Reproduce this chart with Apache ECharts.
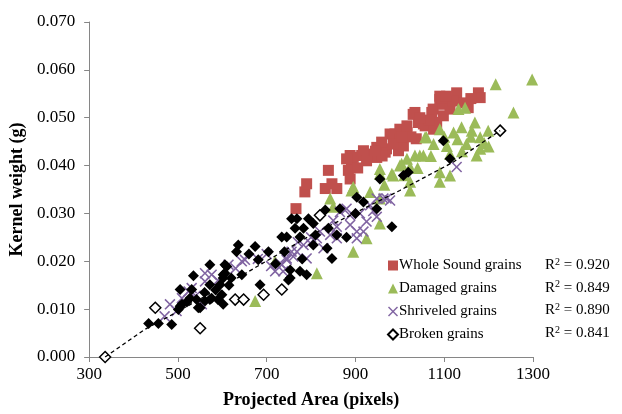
<!DOCTYPE html>
<html>
<head>
<meta charset="utf-8">
<script src="https://cdn.jsdelivr.net/npm/echarts@6/dist/echarts.min.js"></script>
<style>html,body{margin:0;padding:0;background:#fff}#c{width:622px;height:414px}</style>
</head>
<body>
<div id="c"></div>
<script>
// ---- data ----
var xTicks = [300, 500, 700, 900, 1100, 1300];
var yTicks = [0, 0.01, 0.02, 0.03, 0.04, 0.05, 0.06, 0.07];
var seriesNames = ['Whole Sound grains', 'Damaged grains', 'Shriveled grains', 'Broken grains'];
var r2Values = ['0.920', '0.849', '0.890', '0.841'];

var wholeSound = [[766,0.031],[786,0.0345],[790,0.0362],[839,0.039],[832,0.0352],[858,0.0352],[847,0.0362],[888,0.0421],[891,0.0404],[884,0.039],[888,0.0372],[914,0.0421],[933,0.0424],[948,0.0417],[967,0.0428],[997,0.0431],[895,0.0417],[918,0.0431],[948,0.0438],[970,0.0435],[989,0.0466],[1000,0.0476],[1030,0.0507],[1042,0.049],[1057,0.0483],[1075,0.0518],[1090,0.0545],[1098,0.0528],[1016,0.0469],[978,0.0466],[959,0.0449],[880,0.0414],[1090,0.0538],[1128,0.0552],[1177,0.0552],[1181,0.0542],[1143,0.0531],[1154,0.0521],[1098,0.0504],[1083,0.049],[1053,0.0487],[1016,0.0483],[1000,0.0456],[1037,0.0456],[1008,0.0441],[1072,0.0511],[1113,0.0518],[1076,0.0476],[1034,0.0511],[1094,0.0542],[925,0.0410],[960,0.0420],[1025,0.0460],[1065,0.0495],[1120,0.0535],[905,0.0395],[985,0.0445],[945,0.0430],[1005,0.0460],[1045,0.0500],[1105,0.0545],[1160,0.0540]];

var damaged = [[1216,0.057],[1298,0.058],[1256,0.0511],[1132,0.0518],[1147,0.0521],[1169,0.049],[1139,0.048],[1121,0.0469],[1162,0.0473],[1199,0.0473],[1181,0.0459],[1090,0.0476],[1060,0.0459],[1076,0.0445],[1045,0.0421],[1016,0.0414],[1106,0.0441],[1113,0.0424],[1181,0.0435],[1173,0.0421],[1090,0.0386],[1113,0.0379],[1090,0.0366],[1023,0.0366],[1057,0.0459],[1053,0.0421],[1034,0.0421],[1000,0.040],[985,0.0379],[955,0.0393],[895,0.0355],[955,0.0383],[982,0.0383],[1004,0.0404],[1023,0.0397],[933,0.0345],[891,0.0348],[955,0.0279],[1023,0.0348],[850,0.0314],[895,0.022],[925,0.0248],[813,0.0175],[843,0.0331],[955,0.0331],[674,0.0117],[719,0.020],[1150,0.0445],[1190,0.0447],[1130,0.0455],[1160,0.0460],[1100,0.0460],[1040,0.0395],[1070,0.0420],[1140,0.0430],[1200,0.0440],[965,0.0360],[1010,0.0380]];

var shriveled = [[482,0.011],[497,0.0096],[509,0.0123],[531,0.0144],[561,0.0158],[576,0.0172],[614,0.0193],[644,0.020],[651,0.0203],[734,0.0193],[745,0.0206],[756,0.022],[561,0.0175],[554,0.011],[524,0.0137],[963,0.0331],[933,0.0317],[948,0.0293],[925,0.0283],[880,0.031],[888,0.0276],[858,0.0272],[843,0.0255],[820,0.0262],[813,0.0248],[798,0.0238],[783,0.0234],[768,0.022],[760,0.021],[745,0.0203],[730,0.0196],[719,0.0179],[737,0.0179],[790,0.0206],[828,0.0227],[858,0.0248],[903,0.0262],[978,0.0327],[888,0.0296],[948,0.0331],[970,0.0331],[903,0.0248],[918,0.0262],[865,0.0303],[1128,0.0397],[470,0.0085],[540,0.0128],[590,0.0160],[630,0.0185],[680,0.0205],[700,0.0215],[710,0.0190],[770,0.0240],[800,0.0250],[850,0.0285],[910,0.0300],[940,0.0305]];

var brokenSolid = [[434,0.0070],[456,0.0070],[486,0.0068],[501,0.0099],[505,0.0106],[509,0.0110],[527,0.0123],[531,0.0141],[505,0.0141],[546,0.0103],[550,0.0103],[542,0.0120],[561,0.0117],[572,0.0120],[576,0.0123],[572,0.0151],[595,0.0151],[599,0.0130],[602,0.0110],[602,0.0165],[606,0.0175],[610,0.0189],[572,0.0193],[606,0.0193],[535,0.0170],[602,0.0172],[644,0.0172],[636,0.0234],[632,0.0220],[674,0.0231],[681,0.0203],[685,0.0151],[704,0.0220],[734,0.0251],[749,0.0161],[753,0.0182],[764,0.0269],[756,0.0289],[768,0.0289],[794,0.0289],[783,0.0269],[745,0.0251],[775,0.0251],[805,0.0279],[832,0.0307],[839,0.0269],[865,0.0310],[858,0.0255],[836,0.0227],[847,0.0206],[805,0.0234],[775,0.0179],[790,0.0172],[753,0.0165],[903,0.0334],[918,0.0324],[948,0.0310],[982,0.0272],[955,0.0372],[1008,0.0379],[1019,0.0386],[1098,0.0452],[1113,0.0414],[520,0.0115],[585,0.0140],[615,0.0150],[590,0.0120],[560,0.0135],[620,0.0165],[660,0.0215],[720,0.0195],[740,0.0220],[780,0.0205],[810,0.0255],[880,0.0250],[900,0.0300]];

var brokenHollow = [[336,0.000],[449,0.0103],[550,0.006],[629,0.012],[648,0.012],[693,0.013],[734,0.0141],[820,0.0296],[1226,0.0473]];

var trendLine = [[336,0.000],[426,0.0058],[494,0.0092],[647,0.0172],[800,0.0255],[1000,0.0348],[1120,0.0407],[1226,0.0473]];

// ---- chart ----
var FONT = '"Liberation Serif","Times New Roman",serif';
var xMark = 'path://M0,1 L1,0 L5,4 L9,0 L10,1 L6,5 L10,9 L9,10 L5,6 L1,10 L0,9 L4,5 Z';
var chart = echarts.init(document.getElementById('c'), null, {renderer: 'canvas'});

var axisCommon = {
  axisLine: {show: true, lineStyle: {color: '#868686', width: 1}},
  axisTick: {show: true, inside: false, length: 5, lineStyle: {color: '#868686'}},
  splitLine: {show: false},
  nameTextStyle: {fontFamily: FONT, fontWeight: 'bold', fontSize: 18, color: '#000'}
};

var option = {
  animation: false,
  backgroundColor: '#fff',
  grid: {left: 88, right: 89, top: 22, bottom: 54.5, containLabel: false},
  xAxis: Object.assign({}, axisCommon, {
    type: 'value', min: xTicks[0], max: xTicks[xTicks.length - 1], interval: 200,
    name: 'Projected Area (pixels)', nameLocation: 'middle', nameGap: 34,
    axisLabel: {fontFamily: FONT, fontSize: 17, color: '#000', margin: 9,
      formatter: function (v) { return String(v); }}
  }),
  yAxis: Object.assign({}, axisCommon, {
    type: 'value', min: yTicks[0], max: yTicks[yTicks.length - 1], interval: 0.01,
    name: 'Kernel weight (g)', nameLocation: 'middle', nameGap: 58, nameRotate: 90,
    axisLabel: {fontFamily: FONT, fontSize: 17, color: '#000', margin: 14,
      formatter: function (v) { return v.toFixed(3); }}
  }),
  legend: {
    orient: 'vertical', left: 382, top: 253, itemGap: 8, itemWidth: 10, itemHeight: 10,
    data: seriesNames.map(function (n) { return {name: n}; }),
    textStyle: {fontFamily: FONT, fontSize: 15, color: '#000', lineHeight: 15, padding: [0, 0, 0, -4]}
  },
  series: [
    {name: seriesNames[0], type: 'scatter', data: wholeSound, symbol: 'rect', symbolSize: 11,
      itemStyle: {color: '#C0504D', opacity: 1}, z: 2},
    {name: seriesNames[1], type: 'scatter', data: damaged, symbol: 'triangle', symbolSize: 12,
      itemStyle: {color: '#9BBB59', opacity: 1}, z: 3, clip: false},
    {name: seriesNames[2], type: 'scatter', data: shriveled, symbol: xMark, symbolSize: 11,
      itemStyle: {color: '#8064A2', opacity: 1}, z: 4},
    {name: 'Broken grains (solid)', type: 'scatter', data: brokenSolid, symbol: 'diamond', symbolSize: 11,
      itemStyle: {color: '#000', opacity: 1}, z: 5},
    {name: seriesNames[3], type: 'scatter', data: brokenHollow, symbol: 'diamond', symbolSize: 11,
      itemStyle: {color: '#fff', borderColor: '#000', borderWidth: 1.5, opacity: 1}, z: 6},
    {name: 'Broken trend', type: 'line', data: trendLine, symbol: 'none', smooth: false,
      lineStyle: {color: '#000', width: 1.3, type: [4, 3]}, z: 7, silent: true}
  ],
  graphic: r2Values.map(function (v, i) {
    return {
      type: 'text', left: 545, top: 257 + i * 22.7,
      style: {
        text: 'R{s|2} = ' + v,
        font: '15px ' + FONT, fill: '#000',
        rich: {s: {fontSize: 10, fontFamily: FONT, fill: '#000', verticalAlign: 'top', padding: [0, 0, 6, 0]}}
      }
    };
  })
};
chart.setOption(option);
</script>
</body>
</html>
